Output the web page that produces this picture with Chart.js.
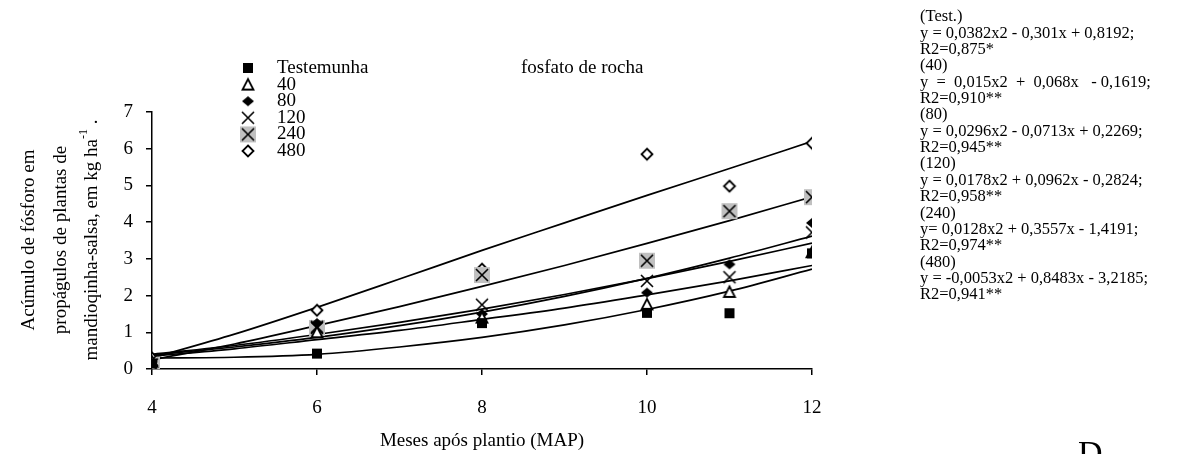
<!DOCTYPE html>
<html>
<head>
<meta charset="utf-8">
<script src="https://cdn.jsdelivr.net/npm/chart.js@4/dist/chart.umd.min.js"></script>
<style>
  body { margin: 0; background: #fff; }
  #wrap { width: 1188px; height: 454px; }
</style>
</head>
<body>
<div id="wrap"><canvas id="fosforoChart" width="1188" height="454"></canvas></div>
<script>
// Meses das coletas (pontos observados)
const meses = [4, 6, 8, 10, 11, 12];
// Meses usados para traçar as curvas ajustadas
const mesesCurva = [4, 5, 6, 7, 8, 9, 10, 11, 12];

const serieNomes = ['Testemunha', '40', '80', '120', '240', '480'];

const testemunha = [0.15, 0.42, 1.25, 1.53, 1.52, 3.15];
const dose40 = [0.2, 1.0, 1.4, 1.76, 2.1, 3.18];
const dose80 = [0.2, 1.25, 1.5, 2.08, 2.85, 3.98];
const dose120 = [0.25, 1.15, 1.75, 2.4, 2.5, 3.72];
const dose240 = [0.12, 1.12, 2.56, 2.95, 4.3, 4.68];
const dose480 = [0.3, 1.6, 2.72, 5.85, 4.98, 6.15];

// Curvas ajustadas
const curvaTest = [0.3, 0.32, 0.4, 0.6, 0.86, 1.2, 1.62, 2.12, 2.72];
const curva40 = [0.35, 0.55, 0.8, 1.05, 1.35, 1.66, 2.02, 2.4, 2.82];
const curva80 = [0.38, 0.6, 0.86, 1.18, 1.55, 1.98, 2.47, 3.02, 3.62];
const curva120 = [0.4, 0.64, 0.94, 1.27, 1.63, 2.03, 2.46, 2.93, 3.43];
const curva240 = [0.25, 0.68, 1.18, 1.7, 2.25, 2.82, 3.42, 4.04, 4.69];
const curva480 = [0.3, 0.95, 1.68, 2.45, 3.23, 3.98, 4.73, 5.46, 6.2];

const yTicks = [0, 1, 2, 3, 4, 5, 6, 7];
const xTicks = [4, 6, 8, 10, 12];

// Texto das equações (coluna da direita)
const equacoes = [
    '(Test.)',
    'y = 0,0382x2 - 0,301x + 0,8192;',
    'R2=0,875*',
    '(40)',
    'y  =  0,015x2  +  0,068x   - 0,1619;',
    'R2=0,910**',
    '(80)',
    'y = 0,0296x2 - 0,0713x + 0,2269;',
    'R2=0,945**',
    '(120)',
    'y = 0,0178x2 + 0,0962x - 0,2824;',
    'R2=0,958**',
    '(240)',
    'y= 0,0128x2 + 0,3557x - 1,4191;',
    'R2=0,974**',
    '(480)',
    'y = -0,0053x2 + 0,8483x - 3,2185;',
    'R2=0,941**'
];

const SERIF = "'Liberation Serif', 'Times New Roman', serif";

// Marcadores desenhados num canvas à parte
function marcador(tipo) {
    const c = document.createElement('canvas');
    c.width = 18; c.height = 18;
    const g = c.getContext('2d');
    g.strokeStyle = '#000';
    g.fillStyle = '#000';
    g.lineWidth = 1.8;
    const m = 9;
    if (tipo === 'quadrado') {
        g.fillRect(m - 5, m - 5, 10, 10);
    } else if (tipo === 'triangulo') {
        g.beginPath();
        g.moveTo(m, m - 5.5); g.lineTo(m + 5.5, m + 5); g.lineTo(m - 5.5, m + 5); g.closePath();
        g.fillStyle = '#fff'; g.fill(); g.stroke();
    } else if (tipo === 'losangoCheio') {
        g.beginPath();
        g.moveTo(m, m - 5); g.lineTo(m + 6, m); g.lineTo(m, m + 5); g.lineTo(m - 6, m); g.closePath();
        g.fill();
    } else if (tipo === 'xis') {
        g.lineWidth = 1.6;
        g.beginPath();
        g.moveTo(m - 6, m - 6); g.lineTo(m + 6, m + 6);
        g.moveTo(m + 6, m - 6); g.lineTo(m - 6, m + 6);
        g.stroke();
    } else if (tipo === 'xisCinza') {
        g.fillStyle = '#c0c0c0';
        g.fillRect(1, 1, 16, 16);
        g.lineWidth = 1.6;
        g.beginPath();
        g.moveTo(m - 6, m - 6); g.lineTo(m + 6, m + 6);
        g.moveTo(m + 6, m - 6); g.lineTo(m - 6, m + 6);
        g.stroke();
    } else if (tipo === 'losango') {
        g.beginPath();
        g.moveTo(m, m - 5.5); g.lineTo(m + 5.5, m); g.lineTo(m, m + 5.5); g.lineTo(m - 5.5, m); g.closePath();
        g.fillStyle = '#fff'; g.fill(); g.stroke();
    }
    return c;
}

const marcadores = [
    marcador('quadrado'), marcador('triangulo'), marcador('losangoCheio'),
    marcador('xis'), marcador('xisCinza'), marcador('losango')
];

const observados = [testemunha, dose40, dose80, dose120, dose240, dose480];
const curvas = [curvaTest, curva40, curva80, curva120, curva240, curva480];

const datasets = [];
curvas.forEach(function (curva, i) {
    datasets.push({
        label: 'ajuste ' + serieNomes[i],
        data: mesesCurva.map((x, k) => ({ x: x, y: curva[k] })),
        showLine: true,
        borderColor: '#000',
        borderWidth: 1.7,
        pointRadius: 0,
        cubicInterpolationMode: 'monotone',
        order: 2
    });
});
observados.forEach(function (vals, i) {
    datasets.push({
        label: serieNomes[i],
        data: meses.map((x, k) => ({ x: x, y: vals[k] })),
        showLine: false,
        pointStyle: marcadores[i],
        pointRadius: 6,
        order: 1
    });
});

// Legenda, títulos e equações
const textosPlugin = {
    id: 'textos',
    afterDraw(chart) {
        const ctx = chart.ctx;
        ctx.save();
        ctx.fillStyle = '#000';
        ctx.textBaseline = 'middle';

        // legenda
        ctx.font = '19px ' + SERIF;
        ctx.textAlign = 'left';
        serieNomes.forEach(function (nome, i) {
            const y = 68 + i * 16.6;
            ctx.drawImage(marcadores[i], 248 - 9, y - 9);
            ctx.fillText(nome, 277, y);
        });
        ctx.fillText('fosfato de rocha', 521, 68);

        // título do eixo x
        ctx.textAlign = 'center';
        ctx.fillText('Meses após plantio (MAP)', (chart.chartArea.left + chart.chartArea.right) / 2, 441);

        // título do eixo y (três linhas giradas)
        const linhas = ['Acúmulo de fósforo em', 'propágulos de plantas de'];
        const xs = [29, 61, 92];
        linhas.forEach(function (t, i) {
            ctx.save();
            ctx.translate(xs[i], 240);
            ctx.rotate(-Math.PI / 2);
            ctx.textAlign = 'center';
            ctx.fillText(t, 0, 0);
            ctx.restore();
        });
        ctx.save();
        ctx.translate(xs[2], 240);
        ctx.rotate(-Math.PI / 2);
        const parte1 = 'mandioqinha-salsa, em kg ha';
        const w1 = ctx.measureText(parte1).width;
        ctx.font = '12px ' + SERIF;
        const w2 = ctx.measureText('-1').width;
        ctx.font = '19px ' + SERIF;
        const w3 = ctx.measureText(' .').width;
        const x0 = -(w1 + w2 + w3) / 2;
        ctx.textAlign = 'left';
        ctx.fillText(parte1, x0, 0);
        ctx.font = '12px ' + SERIF;
        ctx.fillText('-1', x0 + w1, -8);
        ctx.font = '19px ' + SERIF;
        ctx.fillText(' .', x0 + w1 + w2, 0);
        ctx.restore();

        // equações à direita
        ctx.font = '16.5px ' + SERIF;
        ctx.textAlign = 'left';
        equacoes.forEach(function (t, i) {
            ctx.fillText(t, 920, 17 + i * 16.35);
        });
        ctx.font = '34px ' + SERIF;
        ctx.textBaseline = 'alphabetic';
        ctx.fillText('D', 1078, 464);
        ctx.restore();
    }
};

const ctx = document.getElementById('fosforoChart').getContext('2d');
const fosforoChart = new Chart(ctx, {
    type: 'scatter',
    data: { datasets: datasets },
    options: {
        responsive: false,
        animation: false,
        layout: { padding: { left: 112, top: 112, right: 376, bottom: 25 } },
        plugins: { legend: { display: false }, tooltip: { enabled: false } },
        scales: {
            x: {
                type: 'linear',
                min: 4,
                max: 12,
                afterFit: s => { s.height = 60; },
                afterBuildTicks: s => { s.ticks = xTicks.map(v => ({ value: v })); },
                ticks: { color: '#000', font: { family: SERIF, size: 19 }, padding: 22 },
                grid: { display: true, drawOnChartArea: false, color: '#000', tickLength: 6, lineWidth: 1.5 },
                border: { color: '#000', width: 1.5 }
            },
            y: {
                min: 0,
                max: 7,
                afterFit: s => { s.width = 40; },
                afterBuildTicks: s => { s.ticks = yTicks.map(v => ({ value: v })); },
                ticks: { color: '#000', font: { family: SERIF, size: 19 }, padding: 13 },
                grid: { display: true, drawOnChartArea: false, color: '#000', tickLength: 6, lineWidth: 1.5 },
                border: { color: '#000', width: 1.5 }
            }
        }
    },
    plugins: [textosPlugin]
});
</script>
</body>
</html>
